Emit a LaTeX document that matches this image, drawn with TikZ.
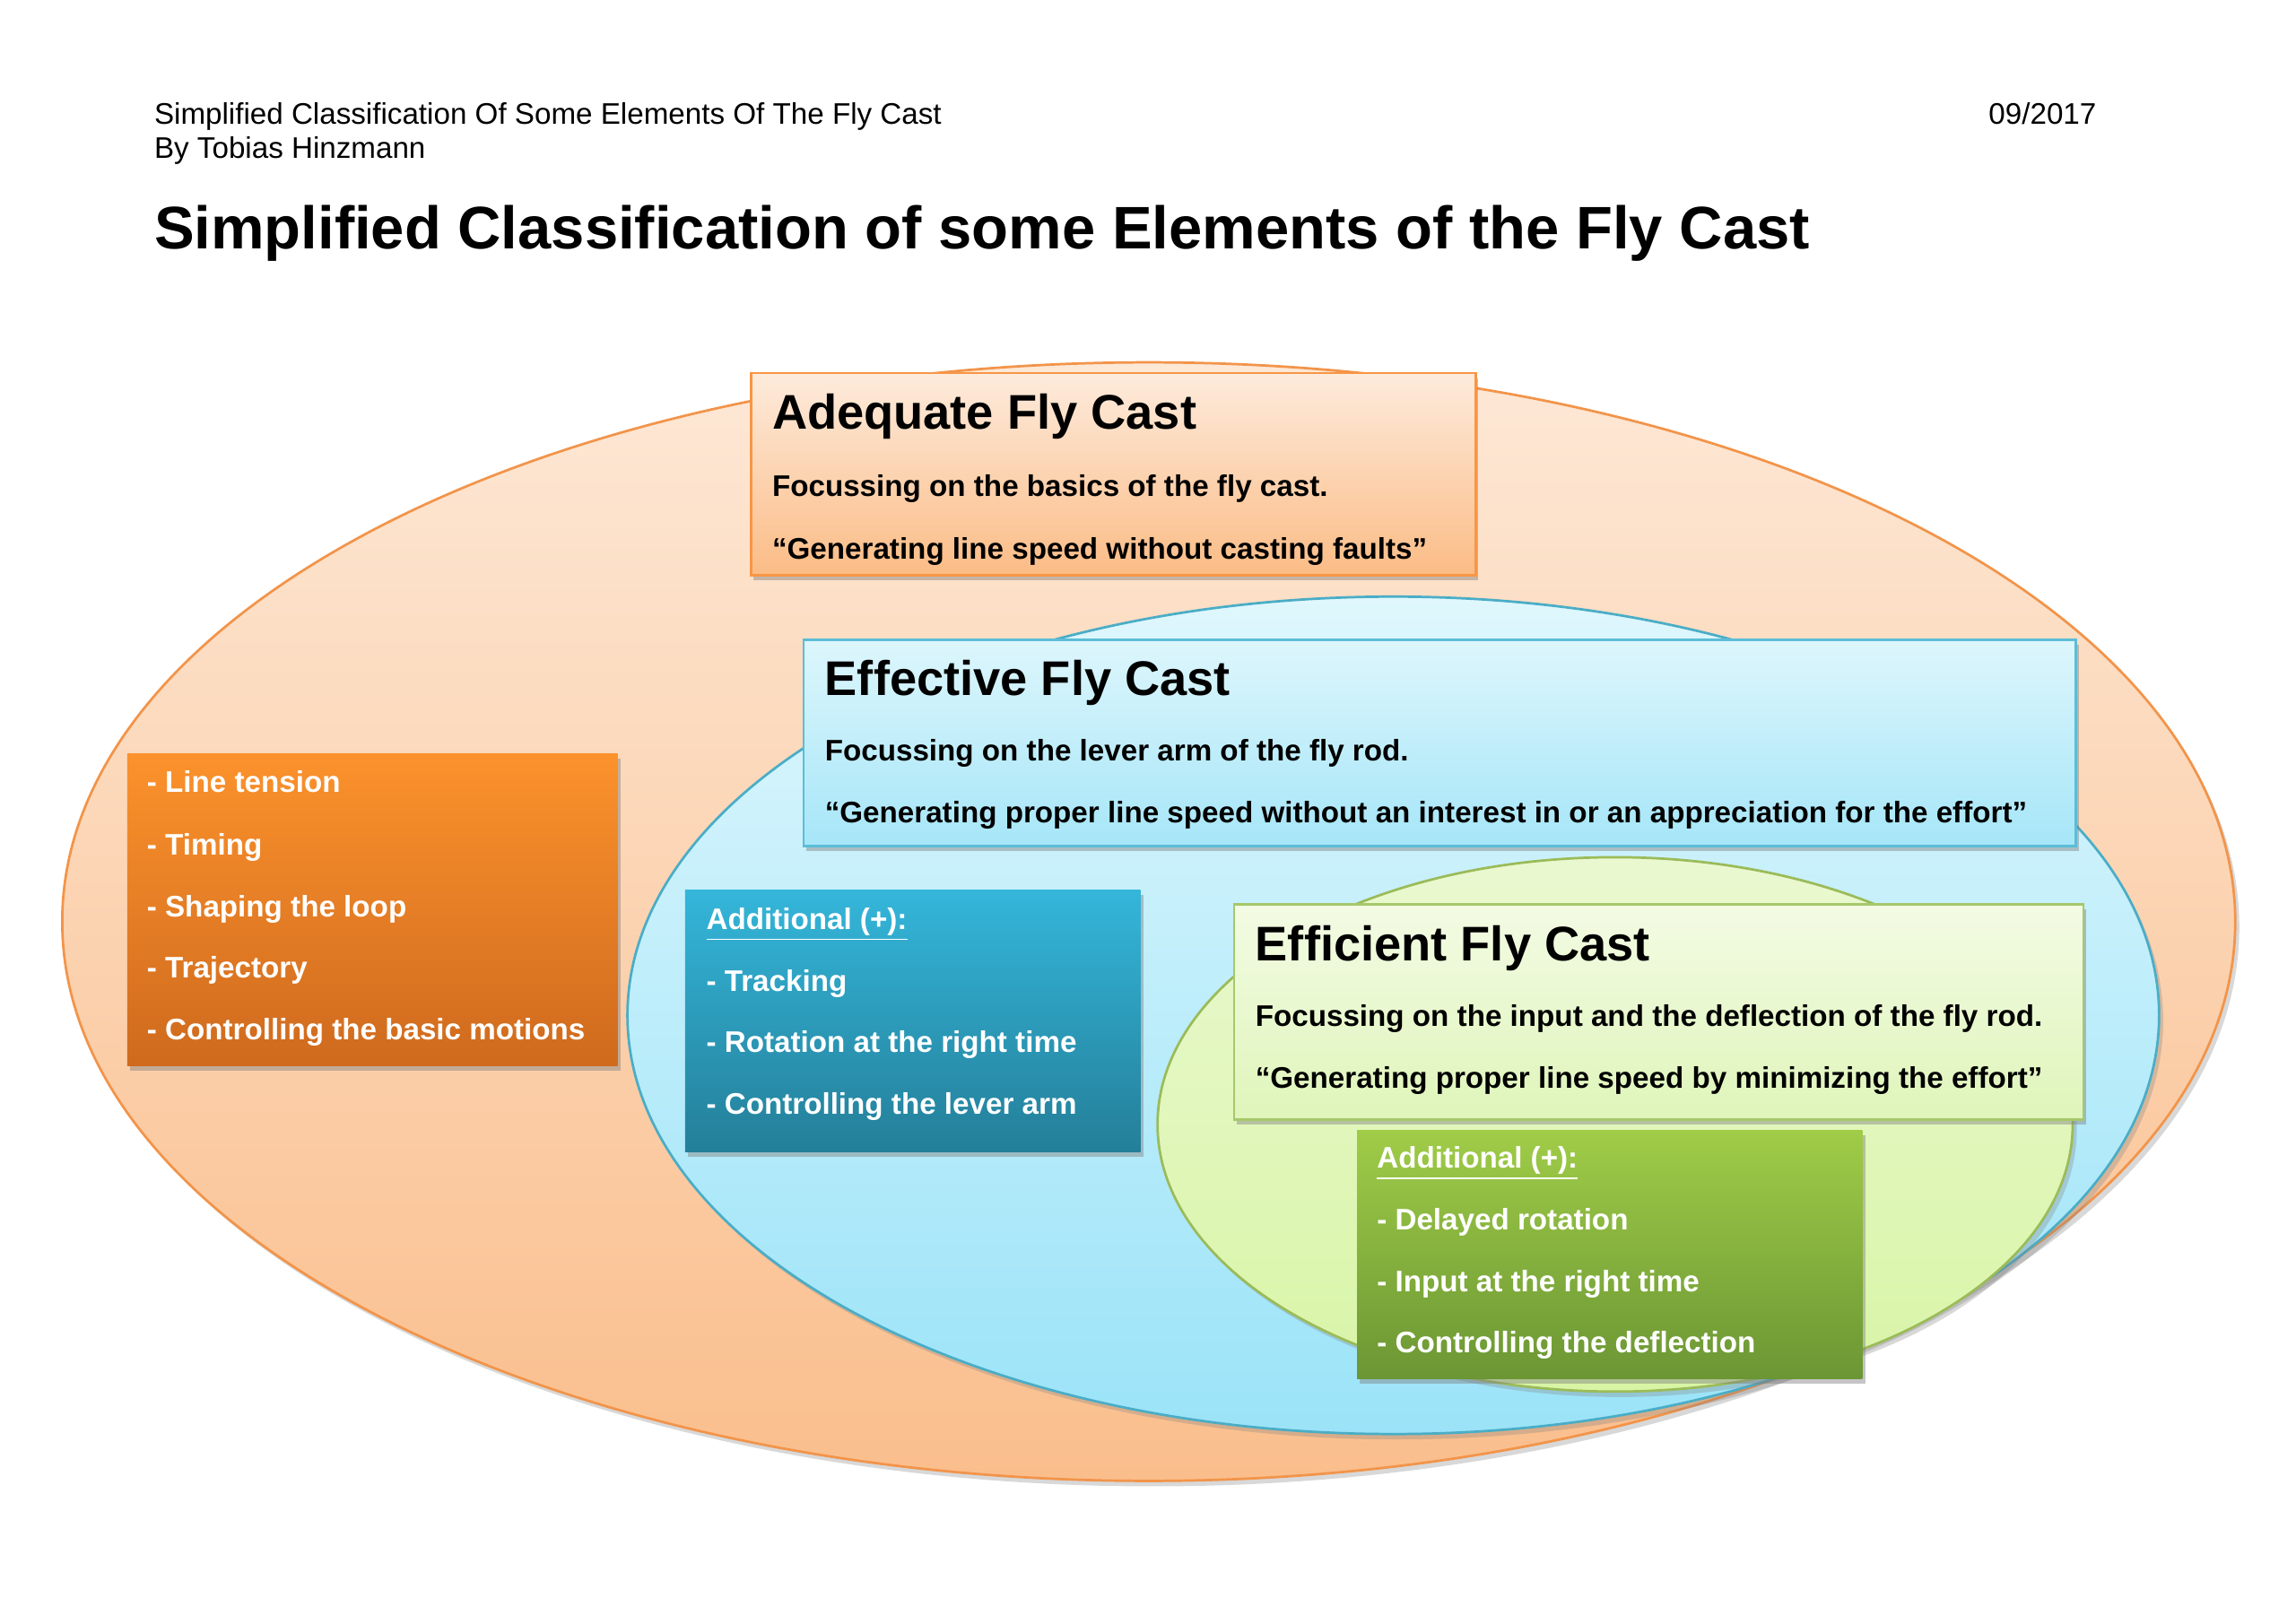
\documentclass[tikz,border=0pt]{standalone}
\usepackage{fontspec}
\setmainfont{Liberation Sans}
\usetikzlibrary{shapes.geometric,shadows}
\definecolor{orline}{HTML}{F2944A}
\definecolor{ortop}{HTML}{FDE8D6}
\definecolor{orbot}{HTML}{FABE8C}
\definecolor{adtop}{HTML}{FDEBDC}
\definecolor{adbot}{HTML}{FBBC86}
\definecolor{adline}{HTML}{F79646}
\definecolor{blline}{HTML}{4AADC6}
\definecolor{bltop}{HTML}{DFF7FD}
\definecolor{blbot}{HTML}{9BE3F8}
\definecolor{eftop}{HTML}{DDF6FC}
\definecolor{efbot}{HTML}{A6E6F8}
\definecolor{efline}{HTML}{5BBDD7}
\definecolor{grline}{HTML}{9BBB59}
\definecolor{grtop}{HTML}{EAF8D0}
\definecolor{grbot}{HTML}{D8F5A6}
\definecolor{fitop}{HTML}{F3FBE4}
\definecolor{fibot}{HTML}{DFF5BA}
\definecolor{filine}{HTML}{A6C86A}
\definecolor{oltop}{HTML}{FB922C}
\definecolor{olbot}{HTML}{CF6A1E}
\definecolor{bltop2}{HTML}{34B6DA}
\definecolor{blbot2}{HTML}{247F99}
\definecolor{gltop}{HTML}{A0CC48}
\definecolor{glbot}{HTML}{6B9634}
\def\u{0.018941cm}
\tikzset{
  bigell/.style={ellipse, inner sep=0pt, line width=0.9pt,
    drop shadow={shadow xshift=1.5pt, shadow yshift=-2pt, opacity=0.3}},
  panel/.style={rectangle, inner sep=0pt, anchor=north west, line width=0.9pt,
    drop shadow={shadow xshift=1pt, shadow yshift=-1.8pt, opacity=0.45}},
  hdr/.style={anchor=base west, inner sep=0pt, font=\fontsize{10.95}{13}\selectfont},
  ttl/.style={anchor=base west, inner sep=0pt, font=\bfseries\fontsize{17.9}{21}\selectfont},
  body/.style={anchor=base west, inner sep=0pt, font=\bfseries\fontsize{10.95}{13}\selectfont},
  wbody/.style={body, text=white}
}
\begin{document}
\begin{tikzpicture}[x=\u, y=-\u]
\useasboundingbox[fill=white] (0,0) rectangle (1568,1109.2);
% header
\node[hdr] (h1) at (105,85) {Simplified Classification Of Some Elements Of The Fly Cast};
\node[hdr] (h2) at (105,108) {By Tobias Hinzmann};
\node[hdr, anchor=base east] (h3) at (1432,85) {09/2017};
\node[anchor=base west, inner sep=0pt, font=\bfseries\fontsize{22.1}{26}\selectfont] (title) at (105,170) {Simplified Classification of some Elements of the Fly Cast};
% outer ellipse
\node[bigell, draw=orline, top color=ortop, bottom color=orbot,
  minimum width=1484*\u, minimum height=764*\u] (outer) at (784.5,629.5) {};
% adequate box
\node[panel, draw=adline, top color=adtop, bottom color=adbot,
  minimum width=495*\u, minimum height=138*\u] (adbox) at (512,254) {};
\node[ttl] (adt) at (527,293) {Adequate Fly Cast};
\node[body] (ad1) at (527,339) {Focussing on the basics of the fly cast.};
\node[body] (ad2) at (527,382) {“Generating line speed without casting faults”};
% blue ellipse
\node[bigell, draw=blline, top color=bltop, bottom color=blbot,
  minimum width=1046*\u, minimum height=572*\u] (mid) at (951.5,693.5) {};
% effective box
\node[panel, draw=efline, top color=eftop, bottom color=efbot,
  minimum width=869*\u, minimum height=141*\u] (efbox) at (548,436) {};
\node[ttl] (eft) at (563,475) {Effective Fly Cast};
\node[body] (ef1) at (563,520) {Focussing on the lever arm of the fly rod.};
\node[body] (ef2) at (563,562) {“Generating proper line speed without an interest in or an appreciation for the effort”};
% orange list
\node[panel, draw=none, top color=oltop, bottom color=olbot,
  minimum width=335*\u, minimum height=213*\u] (olist) at (86,514) {};
\node[wbody] (o1) at (100,541) {- Line tension};
\node[wbody] (o2) at (100,584) {- Timing};
\node[wbody] (o3) at (100,626) {- Shaping the loop};
\node[wbody] (o4) at (100,668) {- Trajectory};
\node[wbody] (o5) at (100,710) {- Controlling the basic motions};
% blue list
\node[panel, draw=none, top color=bltop2, bottom color=blbot2,
  minimum width=311*\u, minimum height=179*\u] (blist) at (467,607) {};
\node[wbody] (b0) at (482,635) {\underline{Additional (+):}};
\node[wbody] (b1) at (482,677) {- Tracking};
\node[wbody] (b2) at (482,719) {- Rotation at the right time};
\node[wbody] (b3) at (482,761) {- Controlling the lever arm};
% green ellipse
\node[bigell, draw=grline, top color=grtop, bottom color=grbot,
  minimum width=625*\u, minimum height=365*\u] (inner) at (1103,768) {};
% efficient box
\node[panel, draw=filine, top color=fitop, bottom color=fibot,
  minimum width=580*\u, minimum height=147*\u] (fibox) at (842,617) {};
\node[ttl] (fit) at (857,656) {Efficient Fly Cast};
\node[body] (fi1) at (857,701) {Focussing on the input and the deflection of the fly rod.};
\node[body] (fi2) at (857,743) {“Generating proper line speed by minimizing the effort”};
% green list
\node[panel, draw=none, top color=gltop, bottom color=glbot,
  minimum width=345*\u, minimum height=170*\u] (glist) at (926,771) {};
\node[wbody] (g0) at (940,798) {\underline{Additional (+):}};
\node[wbody] (g1) at (940,840) {- Delayed rotation};
\node[wbody] (g2) at (940,882) {- Input at the right time};
\node[wbody] (g3) at (940,924) {- Controlling the deflection};
\end{tikzpicture}
\end{document}
